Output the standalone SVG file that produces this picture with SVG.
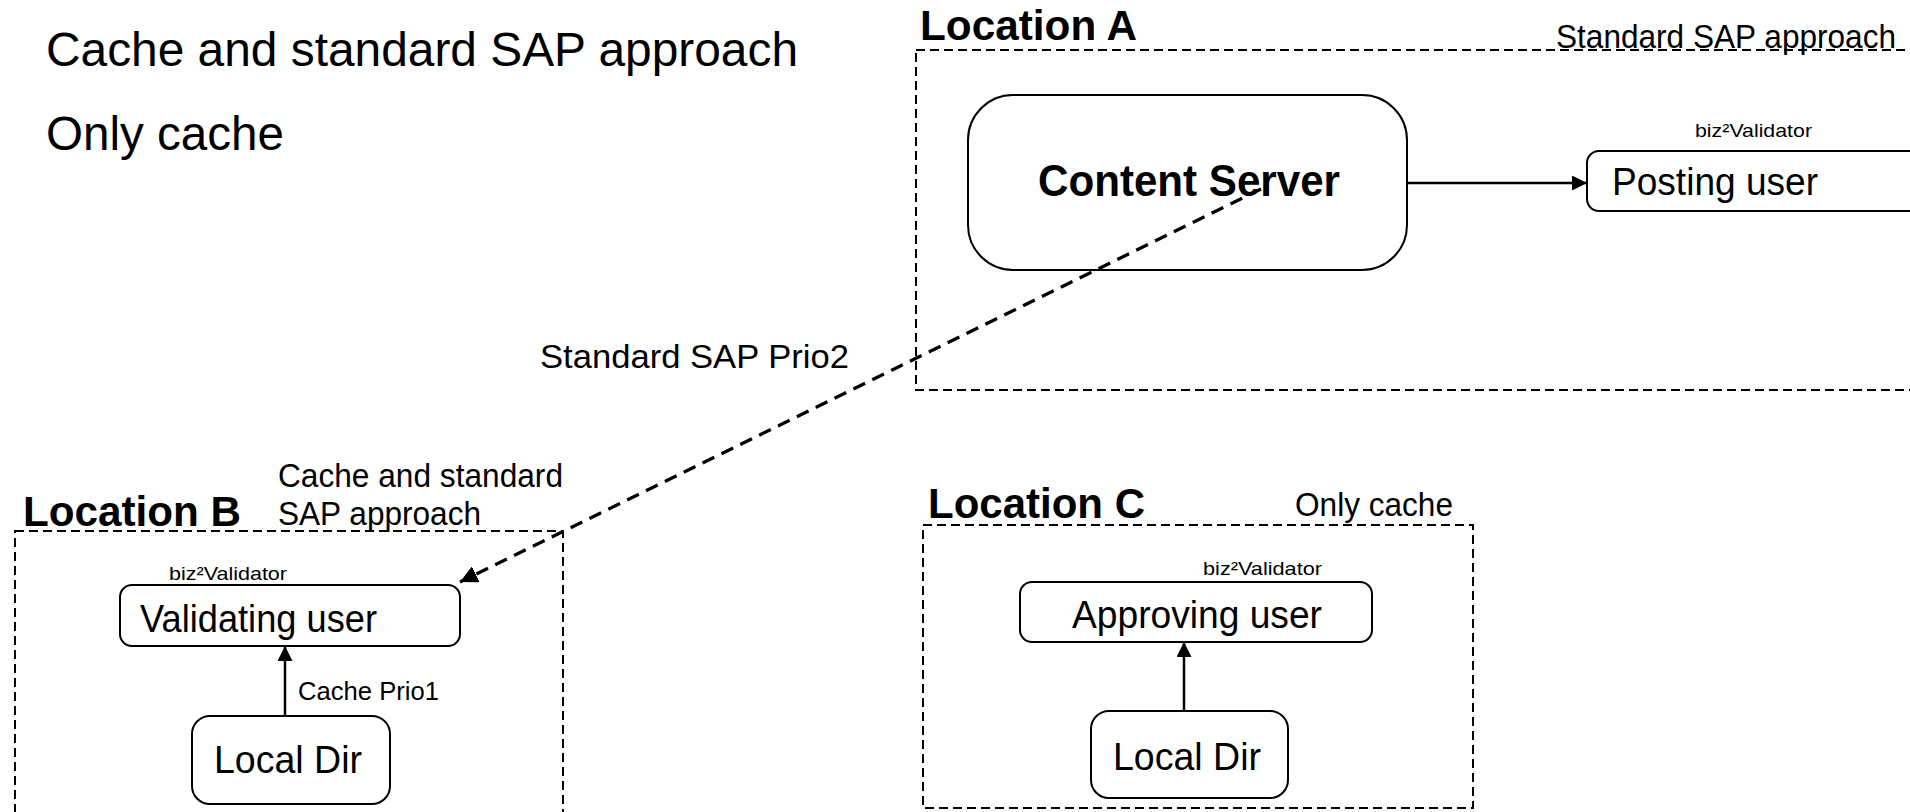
<svg xmlns="http://www.w3.org/2000/svg" width="1910" height="812" viewBox="0 0 1910 812">
<style>
text{font-family:"Liberation Sans",Arial,sans-serif;fill:#000}
.loc{font-weight:bold;font-size:43px}
.lbl{font-size:33px}
.big{font-size:48px}
.sm{font-size:18.5px}
.node{font-size:38px}
.frame{fill:none;stroke:#000;stroke-width:2;stroke-dasharray:9 5}
.box{fill:#fff;stroke:#000;stroke-width:2}
.conn{fill:none;stroke:#000;stroke-width:2.5}
.dconn{fill:none;stroke:#000;stroke-width:3.2;stroke-dasharray:13 8}
</style>
<defs>
<marker id="ah" viewBox="0 0 10 10" refX="10" refY="5" markerWidth="6" markerHeight="6" markerUnits="strokeWidth" orient="auto">
<path d="M0,0 L10,5 L0,10 z" fill="#000"/>
</marker>
<marker id="ahd" viewBox="0 0 10 10" refX="10" refY="5" markerWidth="5.5" markerHeight="5.5" markerUnits="strokeWidth" orient="auto">
<path d="M0,0 L10,5 L0,10 z" fill="#000"/>
</marker>
</defs>
<rect width="1910" height="812" fill="#fff"/>
<g id="legend">
<text class="big" x="46" y="66" textLength="752" lengthAdjust="spacingAndGlyphs">Cache and standard SAP approach</text>
<text class="big" x="46" y="150" textLength="238" lengthAdjust="spacingAndGlyphs">Only cache</text>
</g>
<g id="locationA">
<rect class="frame" x="916" y="50" width="1010" height="340"/>
<text class="loc" x="920" y="40" textLength="217" lengthAdjust="spacingAndGlyphs">Location A</text>
<text class="lbl" x="1556" y="48" textLength="340" lengthAdjust="spacingAndGlyphs">Standard SAP approach</text>
</g>
<g id="locationB">
<rect class="frame" x="15" y="531" width="548" height="300"/>
<text class="loc" x="23" y="526" textLength="218" lengthAdjust="spacingAndGlyphs">Location B</text>
<text class="lbl" x="278" y="487" textLength="285" lengthAdjust="spacingAndGlyphs">Cache and standard</text>
<text class="lbl" x="278" y="525" textLength="203" lengthAdjust="spacingAndGlyphs">SAP approach</text>
</g>
<g id="locationC">
<rect class="frame" x="923" y="525" width="550" height="283"/>
<text class="loc" x="928" y="518" textLength="217" lengthAdjust="spacingAndGlyphs">Location C</text>
<text class="lbl" x="1295" y="516" textLength="158" lengthAdjust="spacingAndGlyphs">Only cache</text>
</g>
<g id="contentServer">
<rect class="box" x="968" y="95" width="439" height="175" rx="45" ry="45"/>
<text class="loc" x="1038" y="196" style="font-size:45px" textLength="302" lengthAdjust="spacingAndGlyphs">Content Server</text>
</g>
<g id="postingUser">
<text class="sm" x="1695" y="137" textLength="117" lengthAdjust="spacingAndGlyphs">biz²Validator</text>
<rect class="box" x="1587" y="151" width="340" height="60" rx="12" ry="12"/>
<text class="node" x="1612" y="195" textLength="206" lengthAdjust="spacingAndGlyphs">Posting user</text>
</g>
<g id="validatingUser">
<text class="sm" x="169" y="580" textLength="118" lengthAdjust="spacingAndGlyphs">biz²Validator</text>
<rect class="box" x="120" y="585" width="340" height="61" rx="12" ry="12"/>
<text class="node" x="140" y="632" textLength="237" lengthAdjust="spacingAndGlyphs">Validating user</text>
</g>
<g id="localDirB">
<rect class="box" x="192" y="716" width="198" height="88" rx="18" ry="18"/>
<text class="node" x="214" y="773" textLength="148" lengthAdjust="spacingAndGlyphs">Local Dir</text>
</g>
<g id="approvingUser">
<text class="sm" x="1203" y="575" textLength="119" lengthAdjust="spacingAndGlyphs">biz²Validator</text>
<rect class="box" x="1020" y="582" width="352" height="60" rx="12" ry="12"/>
<text class="node" x="1072" y="628" textLength="250" lengthAdjust="spacingAndGlyphs">Approving user</text>
</g>
<g id="localDirC">
<rect class="box" x="1091" y="711" width="197" height="87" rx="18" ry="18"/>
<text class="node" x="1113" y="770" textLength="148" lengthAdjust="spacingAndGlyphs">Local Dir</text>
</g>
<g id="connectors">
<line class="conn" x1="1407" y1="183" x2="1587" y2="183" marker-end="url(#ah)"/>
<line class="dconn" x1="1261" y1="189" x2="460" y2="582" marker-end="url(#ahd)"/>
<line class="conn" x1="285" y1="716" x2="285" y2="646" marker-end="url(#ah)"/>
<line class="conn" x1="1184" y1="711" x2="1184" y2="642" marker-end="url(#ah)"/>
<text class="sm" x="298" y="700" style="font-size:25px" textLength="141" lengthAdjust="spacingAndGlyphs">Cache Prio1</text>
<text class="lbl" x="540" y="368" textLength="309" lengthAdjust="spacingAndGlyphs">Standard SAP Prio2</text>
</g>
</svg>
